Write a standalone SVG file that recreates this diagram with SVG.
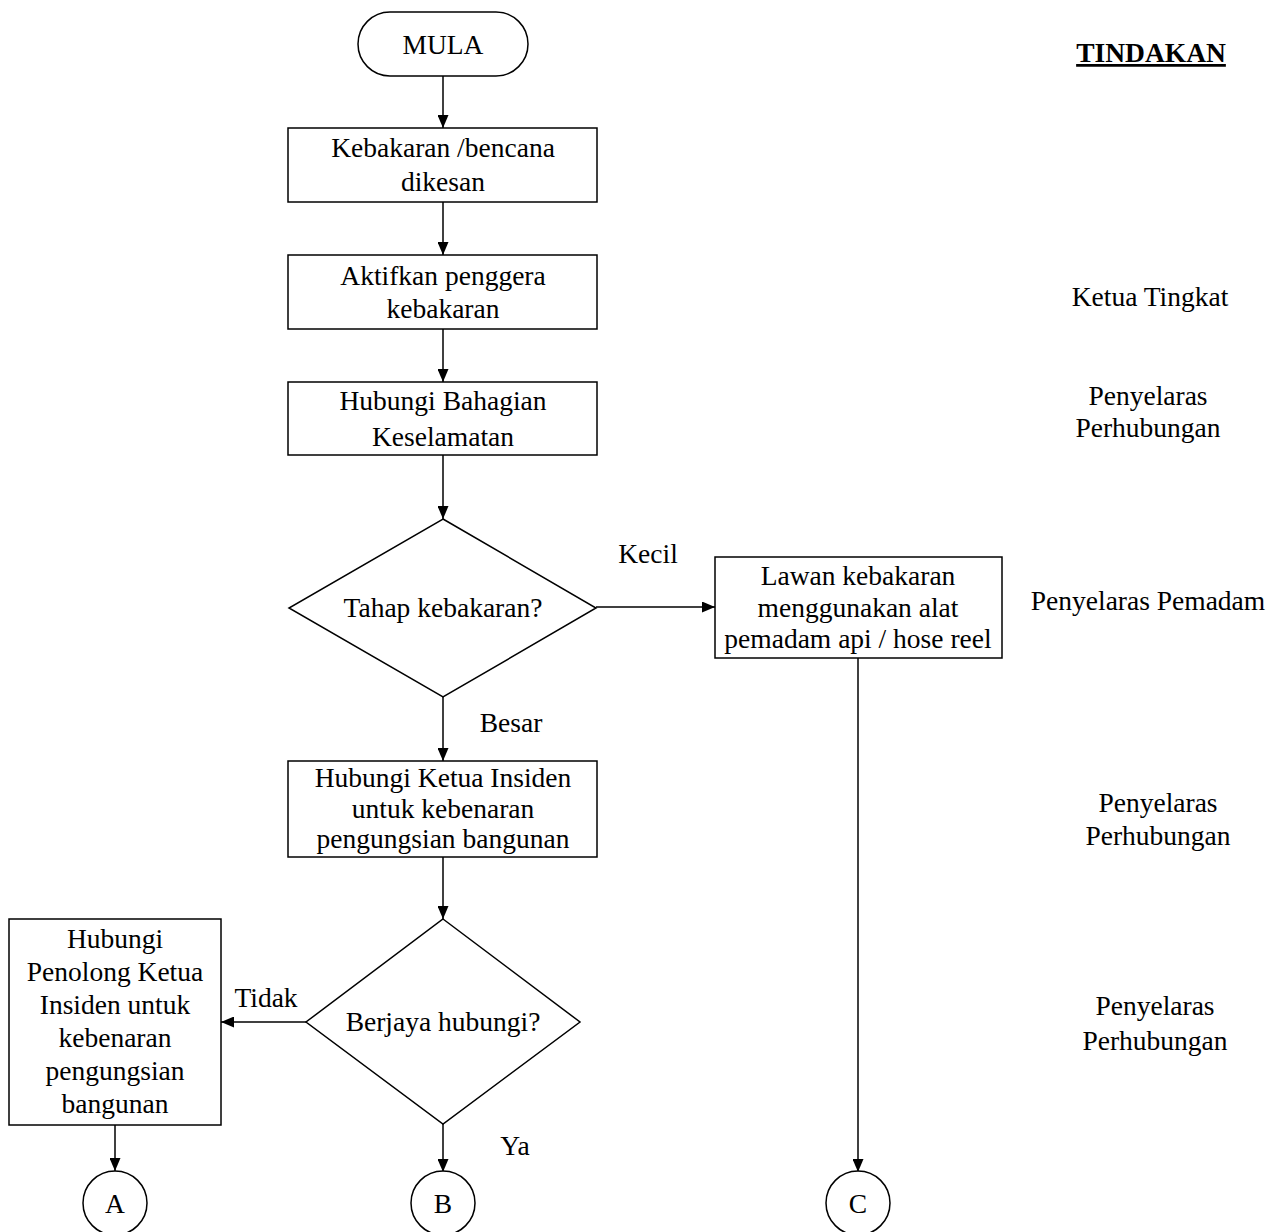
<svg xmlns="http://www.w3.org/2000/svg" width="1281" height="1232" viewBox="0 0 1281 1232">
<defs>
<marker id="arr" viewBox="0 0 13 11" refX="13" refY="5.5" markerWidth="13" markerHeight="11" markerUnits="userSpaceOnUse" orient="auto">
<path d="M0,0 L13,5.5 L0,11 Z" fill="#000"/>
</marker>
<style>
.s{fill:#fff;stroke:#000;stroke-width:1.5}
.t{font-family:"Liberation Serif","Times New Roman",serif;font-size:27.5px;fill:#000;text-anchor:middle}
.b{font-weight:bold;text-decoration:underline}
.c{fill:none;stroke:#000;stroke-width:1.5;marker-end:url(#arr)}
</style>
</defs>
<rect width="1281" height="1232" fill="#fff"/>
<g id="connectors">
<line class="c" x1="443" y1="76" x2="443" y2="128"/>
<line class="c" x1="443" y1="202" x2="443" y2="255"/>
<line class="c" x1="443" y1="329" x2="443" y2="382"/>
<line class="c" x1="443" y1="455" x2="443" y2="519"/>
<line class="c" x1="596" y1="607" x2="715" y2="607"/>
<line class="c" x1="443" y1="697" x2="443" y2="761"/>
<line class="c" x1="443" y1="857" x2="443" y2="919"/>
<line class="c" x1="306" y1="1022" x2="221" y2="1022"/>
<line class="c" x1="443" y1="1124" x2="443" y2="1172"/>
<line class="c" x1="115" y1="1125" x2="115" y2="1171"/>
<line class="c" x1="858" y1="658" x2="858" y2="1172"/>
<text class="t" x="648" y="563">Kecil</text>
<text class="t" x="511" y="732">Besar</text>
<text class="t" x="266" y="1007">Tidak</text>
<text class="t" x="515" y="1155">Ya</text>
</g>
<g id="mula">
<rect class="s" x="358" y="12" width="170" height="64" rx="32" ry="32"/>
<text class="t" x="443" y="54">MULA</text>
</g>
<g id="kebakaran">
<rect class="s" x="288" y="128" width="309" height="74"/>
<text class="t" x="443" y="157">Kebakaran /bencana</text>
<text class="t" x="443" y="191">dikesan</text>
</g>
<g id="aktifkan">
<rect class="s" x="288" y="255" width="309" height="74"/>
<text class="t" x="443" y="285">Aktifkan penggera</text>
<text class="t" x="443" y="318">kebakaran</text>
</g>
<g id="hubungi-keselamatan">
<rect class="s" x="288" y="382" width="309" height="73"/>
<text class="t" x="443" y="410">Hubungi Bahagian</text>
<text class="t" x="443" y="446">Keselamatan</text>
</g>
<g id="tahap">
<polygon class="s" points="443,519 596,608 443,697 289,608"/>
<text class="t" x="443" y="617">Tahap kebakaran?</text>
</g>
<g id="lawan">
<rect class="s" x="715" y="557" width="287" height="101"/>
<text class="t" x="858" y="585">Lawan kebakaran</text>
<text class="t" x="858" y="617">menggunakan alat</text>
<text class="t" x="858" y="648">pemadam api / hose reel</text>
</g>
<g id="hubungi-ketua">
<rect class="s" x="288" y="761" width="309" height="96"/>
<text class="t" x="443" y="787">Hubungi Ketua Insiden</text>
<text class="t" x="443" y="818">untuk kebenaran</text>
<text class="t" x="443" y="848">pengungsian bangunan</text>
</g>
<g id="berjaya">
<polygon class="s" points="443,919 580,1022 443,1124 306,1022"/>
<text class="t" x="443" y="1031">Berjaya hubungi?</text>
</g>
<g id="hubungi-penolong">
<rect class="s" x="9" y="919" width="212" height="206"/>
<text class="t" x="115" y="948">Hubungi</text>
<text class="t" x="115" y="981">Penolong Ketua</text>
<text class="t" x="115" y="1014">Insiden untuk</text>
<text class="t" x="115" y="1047">kebenaran</text>
<text class="t" x="115" y="1080">pengungsian</text>
<text class="t" x="115" y="1113">bangunan</text>
</g>
<g id="circle-a">
<circle class="s" cx="115" cy="1203" r="32"/>
<text class="t" x="115" y="1213">A</text>
</g>
<g id="circle-b">
<circle class="s" cx="443" cy="1203" r="32"/>
<text class="t" x="443" y="1213">B</text>
</g>
<g id="circle-c">
<circle class="s" cx="858" cy="1203" r="32"/>
<text class="t" x="858" y="1213">C</text>
</g>
<g id="tindakan">
<text class="t b" x="1151" y="62">TINDAKAN</text>
<text class="t" x="1150" y="306">Ketua Tingkat</text>
<text class="t" x="1148" y="405">Penyelaras</text>
<text class="t" x="1148" y="437">Perhubungan</text>
<text class="t" x="1148" y="610">Penyelaras Pemadam</text>
<text class="t" x="1158" y="812">Penyelaras</text>
<text class="t" x="1158" y="845">Perhubungan</text>
<text class="t" x="1155" y="1015">Penyelaras</text>
<text class="t" x="1155" y="1050">Perhubungan</text>
</g>
</svg>
